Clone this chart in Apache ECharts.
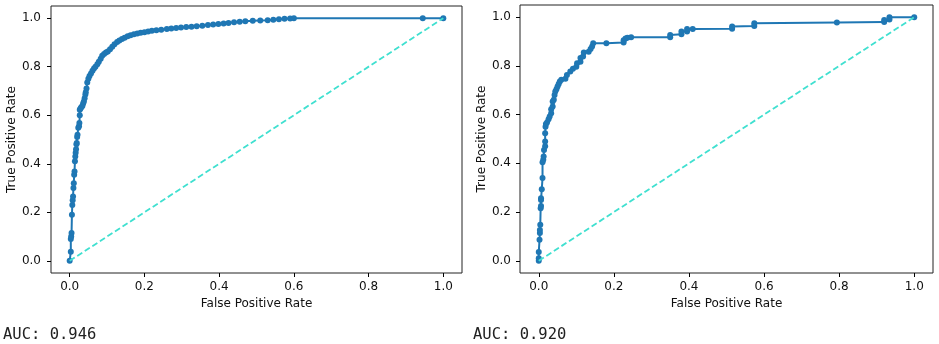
<!DOCTYPE html>
<html>
<head>
<meta charset="utf-8">
<script src="https://cdn.jsdelivr.net/npm/echarts@6/dist/echarts.min.js"></script>
<style>
html,body{margin:0;padding:0;background:#fff;}
#chart{width:939px;height:344px;}
</style>
</head>
<body>
<div id="chart"></div>
<script>
// ---- data ----
const leftFpr = [0,0.003,0.003,0.004,0.005,0.006,0.007,0.008,0.009,0.01,0.011,0.012,0.013,0.014,0.015,0.016,0.017,0.018,0.019,0.02,0.021,0.023,0.025,0.026,0.027,0.027,0.029,0.031,0.034,0.036,0.038,0.04,0.042,0.043,0.045,0.047,0.05,0.053,0.057,0.061,0.065,0.069,0.074,0.078,0.083,0.087,0.092,0.097,0.102,0.108,0.114,0.12,0.127,0.133,0.14,0.147,0.155,0.163,0.172,0.181,0.19,0.2,0.21,0.22,0.232,0.245,0.26,0.272,0.285,0.298,0.312,0.326,0.34,0.355,0.37,0.384,0.398,0.412,0.425,0.44,0.455,0.47,0.49,0.51,0.53,0.545,0.56,0.575,0.59,0.6,0.945,1.0];
const leftTpr = [0,0.038,0.09,0.1,0.115,0.19,0.23,0.25,0.265,0.3,0.32,0.355,0.368,0.41,0.43,0.445,0.46,0.48,0.486,0.51,0.52,0.548,0.555,0.568,0.6,0.623,0.628,0.633,0.638,0.648,0.657,0.67,0.685,0.695,0.71,0.735,0.75,0.762,0.772,0.783,0.792,0.8,0.81,0.82,0.833,0.845,0.852,0.858,0.863,0.872,0.882,0.892,0.902,0.908,0.914,0.919,0.925,0.93,0.934,0.937,0.94,0.942,0.945,0.948,0.95,0.952,0.955,0.957,0.959,0.961,0.963,0.965,0.967,0.969,0.972,0.974,0.976,0.978,0.98,0.983,0.985,0.987,0.989,0.99,0.991,0.993,0.995,0.997,0.999,1.0,1.0,1.0];
const rightFpr = [0,0,0,0.002,0.003,0.003,0.004,0.005,0.006,0.006,0.006,0.008,0.01,0.01,0.012,0.013,0.014,0.017,0.017,0.017,0.018,0.019,0.022,0.026,0.029,0.033,0.033,0.037,0.037,0.04,0.042,0.044,0.047,0.05,0.053,0.056,0.06,0.071,0.075,0.084,0.091,0.1,0.102,0.111,0.111,0.118,0.12,0.133,0.138,0.142,0.145,0.18,0.226,0.226,0.231,0.236,0.246,0.35,0.35,0.38,0.38,0.395,0.395,0.41,0.515,0.515,0.574,0.574,0.794,0.92,0.92,0.934,0.934,1.0];
const rightTpr = [0,0.011,0.036,0.086,0.114,0.127,0.148,0.216,0.225,0.25,0.257,0.294,0.34,0.405,0.415,0.428,0.455,0.47,0.49,0.524,0.55,0.562,0.568,0.581,0.592,0.606,0.622,0.633,0.654,0.661,0.681,0.695,0.704,0.715,0.726,0.736,0.743,0.747,0.763,0.777,0.788,0.797,0.811,0.817,0.832,0.839,0.855,0.858,0.869,0.88,0.893,0.893,0.896,0.905,0.912,0.916,0.918,0.918,0.927,0.93,0.941,0.941,0.951,0.952,0.953,0.962,0.964,0.975,0.978,0.98,0.988,0.99,1.0,1.0];
const chanceX = [0, 1];
const chanceY = [0, 1];
const tickValues = [0, 0.2, 0.4, 0.6, 0.8, 1.0];
const tickLabels = ["0.0", "0.2", "0.4", "0.6", "0.8", "1.0"];
const aucValues = [0.946, 0.920];
const xTitle = "False Positive Rate";
const yTitle = "True Positive Rate";

// ---- build ----
const zip = (a, b) => a.map((v, i) => [v, b[i]]);
const tickFmt = v => { const i = tickValues.findIndex(t => Math.abs(t - v) < 1e-9); return i >= 0 ? tickLabels[i] : ''; };
const FONT = 'DejaVu Sans';
const labelStyle = { color: '#111', fontFamily: FONT, fontSize: 12 };

function xAx(gi, nameGap) {
  return {
    type: 'value', gridIndex: gi, min: -0.05, max: 1.05,
    name: xTitle, nameLocation: 'middle', nameGap: nameGap,
    nameTextStyle: { color: '#111', fontFamily: FONT, fontSize: 12 },
    axisLine: { show: false, onZero: false },
    axisTick: { show: true, inside: false, length: 4, customValues: tickValues, lineStyle: { color: '#000', width: 1 } },
    axisLabel: Object.assign({ margin: 8, customValues: tickValues, formatter: tickFmt }, labelStyle),
    splitLine: { show: false }
  };
}
function yAx(gi, nameGap, margin) {
  return {
    type: 'value', gridIndex: gi, min: -0.05, max: 1.05,
    name: yTitle, nameLocation: 'middle', nameGap: nameGap,
    nameTextStyle: { color: '#111', fontFamily: FONT, fontSize: 12 },
    axisLine: { show: false, onZero: false },
    axisTick: { show: true, inside: false, length: 4, customValues: tickValues, lineStyle: { color: '#000', width: 1 } },
    axisLabel: Object.assign({ margin: margin, customValues: tickValues, formatter: tickFmt }, labelStyle),
    splitLine: { show: false }
  };
}
function rocSeries(gi, fpr, tpr) {
  return {
    type: 'line', xAxisIndex: gi, yAxisIndex: gi, data: zip(fpr, tpr),
    showSymbol: true, showAllSymbol: true, symbol: 'circle', symbolSize: 6,
    itemStyle: { color: '#1f77b4' },
    lineStyle: { color: '#1f77b4', width: 2 },
    z: 2, silent: true
  };
}
function chanceSeries(gi) {
  return {
    type: 'line', xAxisIndex: gi, yAxisIndex: gi, data: zip(chanceX, chanceY),
    showSymbol: false,
    lineStyle: { color: '#40e0d0', width: 1.8, type: [6, 3] },
    z: 3, silent: true
  };
}

const chart = echarts.init(document.getElementById('chart'), null, { renderer: 'canvas' });
chart.setOption({
  animation: false,
  backgroundColor: '#fff',
  grid: [
    { left: 51, top: 6, width: 411, height: 267, show: true, borderColor: '#222', borderWidth: 1, backgroundColor: 'transparent' },
    { left: 520, top: 5, width: 413, height: 268, show: true, borderColor: '#222', borderWidth: 1, backgroundColor: 'transparent' }
  ],
  xAxis: [xAx(0, 24), xAx(1, 24)],
  yAxis: [yAx(0, 33, 10), yAx(1, 32, 9)],
  series: [
    rocSeries(0, leftFpr, leftTpr), chanceSeries(0),
    rocSeries(1, rightFpr, rightTpr), chanceSeries(1)
  ],
  graphic: [
    { type: 'text', left: 3, top: 327, style: { text: 'AUC: ' + aucValues[0].toFixed(3), font: '15.5px "DejaVu Sans Mono"', fill: '#222' } },
    { type: 'text', left: 473, top: 327, style: { text: 'AUC: ' + aucValues[1].toFixed(3), font: '15.5px "DejaVu Sans Mono"', fill: '#222' } }
  ]
});
</script>
</body>
</html>
